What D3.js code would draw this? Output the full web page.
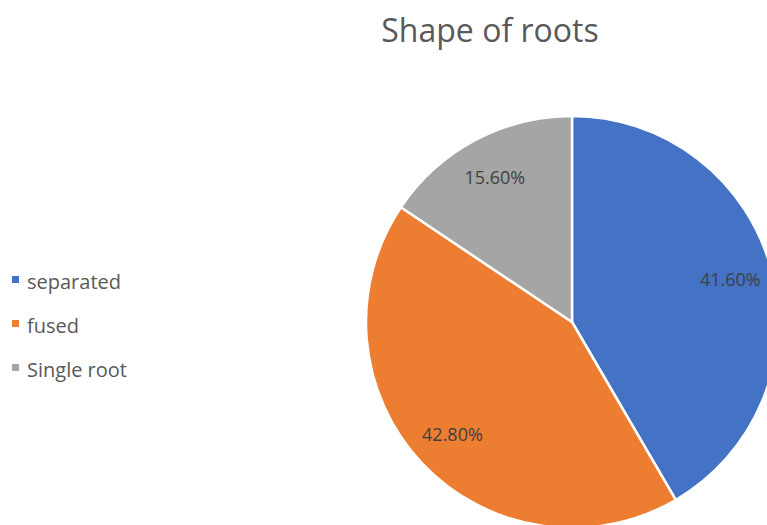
<!DOCTYPE html>
<html>
<head>
<meta charset="utf-8">
<script src="https://cdn.jsdelivr.net/npm/d3@7"></script>
<style>
  html, body { margin: 0; padding: 0; background: #fff; }
  svg { display: block; font-family: "Open Sans", Lato, sans-serif; }
</style>
</head>
<body>
<svg id="chart" width="767" height="525"></svg>
<script>
// Root shape distribution
const categories = ["separated", "fused", "Single root"];
const percentValues = [41.6, 42.8, 15.6];
const sliceColors = ["#4472C4", "#ED7D31", "#A5A5A5"];
const chartTitle = "Shape of roots";

const width = 767, height = 525;
const svg = d3.select("#chart");

const cx = 572, cy = 322, radius = 206, labelRadius = 164;

const data = categories.map((c, i) => ({ name: c, value: percentValues[i] }));
const color = d3.scaleOrdinal().domain(categories).range(sliceColors);

const pie = d3.pie().value(d => d.value).sort(null);
const arcs = pie(data);
const arc = d3.arc().innerRadius(0).outerRadius(radius);
const labelArc = d3.arc().innerRadius(labelRadius).outerRadius(labelRadius);

// Title
svg.append("text")
  .attr("x", 490).attr("y", 42)
  .attr("text-anchor", "middle")
  .attr("font-size", 32)
  .attr("fill", "#595959")
  .text(chartTitle);

// Slices
const g = svg.append("g").attr("transform", `translate(${cx},${cy})`);
g.selectAll("path.slice")
  .data(arcs)
  .join("path")
  .attr("class", "slice")
  .attr("d", arc)
  .attr("fill", d => color(d.data.name))
  .attr("stroke", "#fff")
  .attr("stroke-width", 2.5)
  .attr("stroke-linejoin", "round");

// Data labels
g.selectAll("text.label")
  .data(arcs)
  .join("text")
  .attr("class", "label")
  .attr("transform", d => `translate(${labelArc.centroid(d)})`)
  .attr("text-anchor", "middle")
  .attr("dominant-baseline", "central")
  .attr("font-size", 18)
  .attr("fill", "#404040")
  .text(d => d.data.value.toFixed(2) + "%");

// Legend
const legend = svg.append("g").attr("transform", "translate(12,281)");
const item = legend.selectAll("g.item")
  .data(categories)
  .join("g")
  .attr("class", "item")
  .attr("transform", (d, i) => `translate(0,${i * 44})`);
item.append("rect")
  .attr("x", 0).attr("y", -5)
  .attr("width", 7).attr("height", 7)
  .attr("fill", d => color(d));
item.append("text")
  .attr("x", 15).attr("y", 0)
  .attr("dominant-baseline", "central")
  .attr("font-size", 20)
  .attr("fill", "#595959")
  .text(d => d);
</script>
</body>
</html>
